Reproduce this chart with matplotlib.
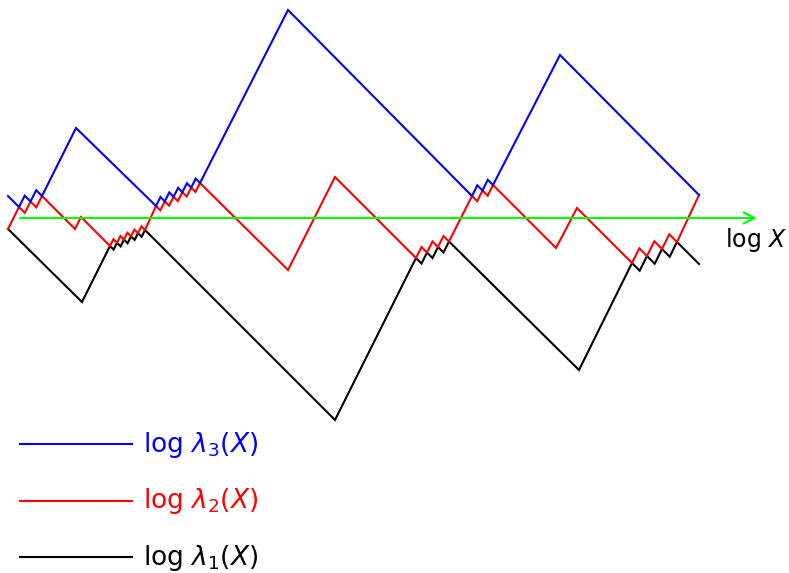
import matplotlib
matplotlib.use("Agg")
import matplotlib.pyplot as plt

plt.rcParams["mathtext.fontset"] = "dejavusans"

# Horizontal position of each vertex and the value of log(lambda) there
# (0 = the log X axis, up is positive).
lam3_x = [8, 19, 24.7, 30.5, 36.2, 42, 76, 156, 160.5, 164.8, 169.3, 173.6, 178.1,
          182.4, 186.9, 191.2, 195.7, 200, 288, 472, 477.3, 482.5, 487.8, 493, 560, 699]
lam3_v = [22, 11, 22.3, 16.5, 27.8, 22, 90, 12, 21, 16.6, 25.6, 21.2, 30.2,
          25.8, 34.8, 30.4, 39.4, 35, 208, 22, 32.7, 27.5, 38.2, 33, 163, 23]

lam2_x = [8, 19, 24.8, 30.5, 36.3, 42, 75, 81, 110, 113.4, 117, 120.4, 124, 127.4,
          131, 134.4, 138, 141.4, 145, 156, 160.3, 164.8, 169.1, 173.6, 177.9, 182.4,
          186.7, 191.2, 195.5, 200, 288, 335, 416, 421.5, 427, 432.5, 438, 443.5, 449,
          472, 477.2, 482.5, 487.7, 493, 556, 577, 632, 639.3, 647, 654.3, 662, 669.3,
          677, 699]
lam2_v = [-11, 11, 5.2, 16.5, 10.7, 22, -11, 1, -28, -21.2, -24.8, -18, -21.6, -14.8,
          -18.4, -11.6, -15.2, -8.4, -12, 12, 7.7, 16.6, 12.3, 21.2, 16.9, 25.8,
          21.5, 30.4, 26.1, 35, -52, 41, -40, -29, -34.5, -23.5, -29, -18, -23.5,
          22, 16.8, 27.5, 22.3, 33, -30, 10, -45, -30.3, -38, -23.3, -31, -16.3,
          -24, 23]

lam1_x = [8, 82, 110, 113.6, 117, 120.6, 124, 127.6, 131, 134.6, 138, 141.6, 145,
          335, 416, 421.5, 427, 432.5, 438, 443.5, 449, 579, 632, 639.7, 647, 654.7,
          662, 669.7, 677, 699]
lam1_v = [-11, -84, -28, -31.6, -24.8, -28.4, -21.6, -25.2, -18.4, -22, -15.2, -18.8,
          -12, -202, -40, -45.5, -34.5, -40, -29, -34.5, -23.5, -152, -45, -52.7, -38,
          -45.7, -31, -38.7, -24, -46]

series_labels = [r"$\mathrm{log}\ \lambda_3(X)$",
                 r"$\mathrm{log}\ \lambda_2(X)$",
                 r"$\mathrm{log}\ \lambda_1(X)$"]
series_colors = ["#0000ff", "#ff0000", "#000000"]
axis_label = r"$\mathrm{log}\ X$"

fig = plt.figure(figsize=(7.89, 5.73), dpi=100)
ax = fig.add_axes([0, 0, 1, 1])
ax.set_xlim(0, 789)
ax.set_ylim(-355, 218)
ax.axis("off")

# log X axis with arrow
ax.annotate("", xy=(757, 0), xytext=(20, 0),
            arrowprops=dict(arrowstyle="->", color="#00ff00", lw=1.5,
                            mutation_scale=20, shrinkA=0, shrinkB=0))
ax.text(725, -28.5, axis_label, fontsize=17, ha="left", va="baseline")

lw = 1.5
for xs, vs, c in [(lam1_x, lam1_v, series_colors[2]),
                  (lam2_x, lam2_v, series_colors[1]),
                  (lam3_x, lam3_v, series_colors[0])]:
    ax.plot(xs, vs, color=c, lw=lw, solid_joinstyle="miter")

# legend rows
legend_rows = [-226, -282.5, -339]
for yv, lab, c in zip(legend_rows, series_labels, series_colors):
    ax.plot([20, 132], [yv, yv], color=c, lw=lw)
    ax.text(143, yv - 8, lab, color=c, fontsize=19, ha="left", va="baseline")

fig.savefig("out.png", dpi=100)
